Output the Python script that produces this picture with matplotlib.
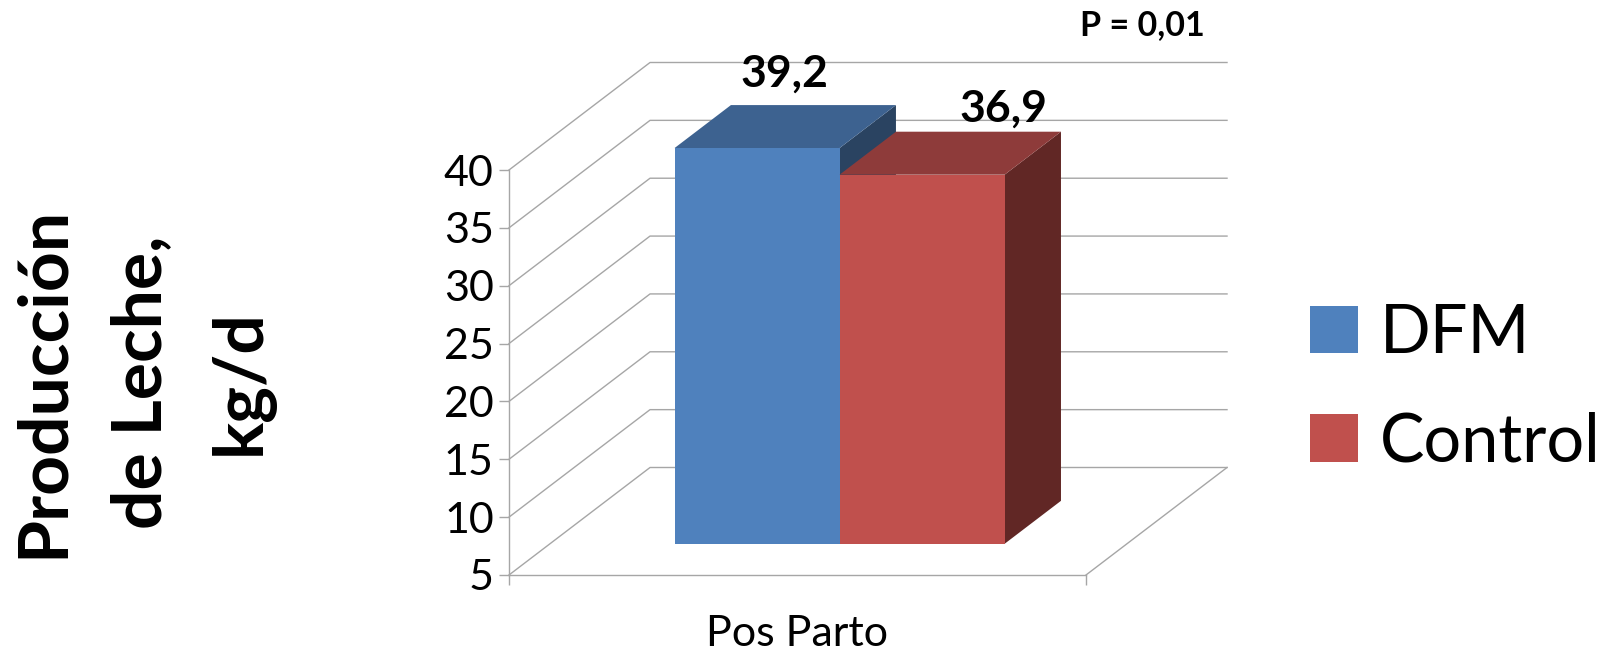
from matplotlib import pyplot as plt
from matplotlib.patches import Patch, Polygon

plt.rcParams['font.family'] = ['Lato', 'DejaVu Sans']

categoria = 'Pos Parto'
series = ['DFM', 'Control']
valores = [39.2, 36.9]
etiquetas = ['39,2', '36,9']
marcas_y = [5, 10, 15, 20, 25, 30, 35, 40]

colores = ['#4F81BD', '#C0504D']
colores_techo = ['#3D6290', '#8E3B3A']
colores_lado = ['#2A4361', '#612725']
gris = '#A6A6A6'

# offset of the back wall, in axis units (oblique 3D look)
fondo_x = 0.2444
fondo_y = 9.29
ancho = 0.286
inicio = 0.216
prof_ini = 0.29
prof = 0.40

# shift of each value label from the top of its bar, in points
desvio = [(-21, 8), (18, 2.5)]


def pr(x, v, d):
    return (x + d * fondo_x, v + d * fondo_y)


fig = plt.figure(figsize=(16.13, 6.53), dpi=100)
ax = fig.add_axes([509 / 1613, 1 - 575 / 653, 577 / 1613, 405 / 653])
ax.set_xlim(0, 1)
ax.set_ylim(5, 40)

# walls and floor
for v in marcas_y:
    xs, ys = zip(pr(0, v, 0), pr(0, v, 1), pr(1, v, 1))
    ax.plot(xs, ys, color=gris, lw=1, clip_on=False, zorder=1)
xs, ys = zip(pr(1, 5, 0), pr(1, 5, 1))
ax.plot(xs, ys, color=gris, lw=1, clip_on=False, zorder=1)

# bars: front, top and side faces
for i in range(len(valores)):
    x0 = inicio + i * ancho
    x1 = x0 + ancho
    v = valores[i]
    d0 = prof_ini
    d1 = prof_ini + prof
    z = 2 + i
    ax.add_patch(Polygon([pr(x1, 5, d0), pr(x1, 5, d1), pr(x1, v, d1), pr(x1, v, d0)],
                         facecolor=colores_lado[i], edgecolor='none', clip_on=False, zorder=z))
    ax.add_patch(Polygon([pr(x0, v, d0), pr(x1, v, d0), pr(x1, v, d1), pr(x0, v, d1)],
                         facecolor=colores_techo[i], edgecolor='none', clip_on=False, zorder=z))
    ax.add_patch(Polygon([pr(x0, 5, d0), pr(x1, 5, d0), pr(x1, v, d0), pr(x0, v, d0)],
                         facecolor=colores[i], edgecolor='none', clip_on=False, zorder=z))
    ax.annotate(etiquetas[i], xy=pr((x0 + x1) / 2, v, d1), xytext=desvio[i],
                textcoords='offset points', ha='center', va='bottom',
                fontsize=32, fontweight='bold', color='black', zorder=6,
                annotation_clip=False)

ax.set_yticks(marcas_y)
ax.tick_params(axis='y', labelsize=31, length=7, width=1, color=gris, pad=4)
ax.set_xticks([0, 1])
ax.set_xticklabels(['', ''])
ax.tick_params(axis='x', length=7, width=1, color=gris)
ax.set_xticks([0.5], minor=True)
ax.set_xticklabels([categoria], minor=True, fontsize=31)
ax.tick_params(axis='x', which='minor', length=0, pad=29)
for lado in ['top', 'right']:
    ax.spines[lado].set_visible(False)
for lado in ['left', 'bottom']:
    ax.spines[lado].set_color(gris)
    ax.spines[lado].set_linewidth(1)

leyenda = [Patch(facecolor=colores[i], label=series[i]) for i in range(len(series))]
fig.legend(handles=leyenda, loc='center left', bbox_to_anchor=(1310 / 1613, 1 - 388 / 653),
           frameon=False, fontsize=48, handlelength=0.725, handleheight=0.72,
           handletextpad=0.33, labelspacing=0.7, borderpad=0, borderaxespad=0)

fig.text(143 / 1613, 1 - 382 / 653, 'Producción\nde Leche,\nkg/d', rotation=90,
         ha='center', va='center', ma='center', fontsize=50, fontweight='bold', linespacing=1.7)
fig.text(1142 / 1613, 1 - 25 / 653, 'P = 0,01', ha='center', va='center',
         fontsize=24.5, fontweight='bold')

plt.savefig('out.png', dpi=100, facecolor='white')
